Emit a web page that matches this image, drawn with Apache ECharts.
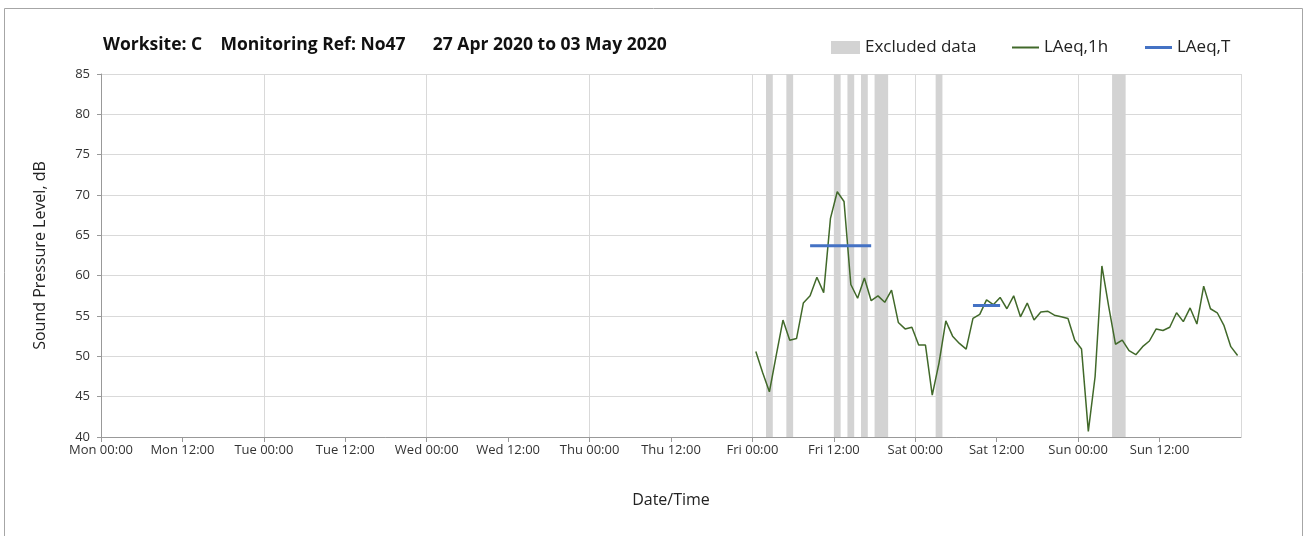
<!DOCTYPE html>
<html>
<head>
<meta charset="utf-8">
<title>Worksite C - No47</title>
<script src="https://cdn.jsdelivr.net/npm/echarts@6/dist/echarts.min.js"></script>
<style>
    html, body { margin: 0; padding: 0; background: #fff; }
    #chart { width: 1306px; height: 536px; }
</style>
</head>
<body>
<div id="chart"></div>
<script>
; (function () {

    /* ============ data (hours from Mon 00:00) ============ */

    var dayNames = ['Mon', 'Tue', 'Wed', 'Thu', 'Fri', 'Sat', 'Sun'];

    // LAeq,1h values, one per hour, first one plotted at Fri 00:30
    var firstHour = 96.5;
    var laeq1h = [
        50.6, 48.0, 45.6, 50.1, 54.5, 52.0, 52.2, 56.6, 57.5, 59.8, 57.9, 67.1,
        70.4, 69.2, 58.9, 57.2, 59.7, 56.9, 57.5, 56.7, 58.2, 54.2, 53.4, 53.6,
        51.4, 51.4, 45.2, 49.2, 54.4, 52.5, 51.6, 50.9, 54.7, 55.2, 57.0, 56.4,
        57.3, 55.9, 57.5, 54.9, 56.6, 54.5, 55.5, 55.6, 55.1, 54.9, 54.7, 52.0,
        50.9, 40.7, 47.5, 61.2, 56.2, 51.5, 52.0, 50.7, 50.2, 51.2, 51.9, 53.4,
        53.2, 53.6, 55.4, 54.3, 56.0, 54.0, 58.7, 55.9, 55.4, 53.8, 51.2, 50.1
    ];

    // LAeq,T periods
    var laeqTStart = [104.5, 128.5];
    var laeqTEnd = [113.5, 132.5];
    var laeqTValue = [63.7, 56.3];

    // excluded data bands
    var excludedStart = [98, 101, 108, 110, 112, 114, 123, 149];
    var excludedEnd = [99, 102, 109, 111, 113, 116, 124, 151];

    /* ======================================================================== */

    var myChart = echarts.init(document.getElementById('chart'));

    var font = '"Open Sans", "DejaVu Sans", sans-serif';
    var green = '#41692a';
    var blue = '#4472c4';
    var grey = '#d3d3d3';

    var lineData = laeq1h.map(function (v, i) {
        return [firstHour + i, v];
    });

    var bandData = excludedStart.map(function (s, i) {
        return [s, excludedEnd[i]];
    });

    var laeqTSeries = laeqTStart.map(function (s, i) {
        return {
            name: 'LAeq,T',
            type: 'line',
            xAxisIndex: 0,
            symbol: 'none',
            silent: true,
            z: 4,
            lineStyle: { color: blue, width: 3 },
            itemStyle: { color: blue },
            data: [[s, laeqTValue[i]], [laeqTEnd[i], laeqTValue[i]]]
        };
    });

    function hourLabel(h) {
        var d = Math.floor(h / 24);
        if (d > 6) return '';
        return dayNames[d] + (h % 24 === 0 ? ' 00:00' : ' 12:00');
    }

    var legendText = { fontFamily: font, fontSize: 17, color: '#222' };

    var option = {
        animation: false,
        title: {
            text: 'Worksite: C    Monitoring Ref: No47      27 Apr 2020 to 03 May 2020',
            left: 98,
            top: 31,
            textStyle: { fontFamily: font, fontSize: 17.5, fontWeight: 'bold', color: '#111' }
        },
        legend: [
            {
                data: [{ name: 'Excluded data', icon: 'rect' }],
                left: 826, top: 34,
                itemWidth: 29, itemHeight: 13,
                textStyle: legendText
            },
            {
                data: [{ name: 'LAeq,1h', icon: 'rect' }],
                left: 1007, top: 34,
                itemWidth: 27, itemHeight: 2,
                textStyle: legendText
            },
            {
                data: [{ name: 'LAeq,T', icon: 'rect' }],
                left: 1140, top: 34,
                itemWidth: 27, itemHeight: 3,
                textStyle: legendText
            }
        ],
        graphic: [{
            type: 'rect',
            shape: { x: 4.5, y: 8.5, width: 1298, height: 560 },
            style: { fill: 'none', stroke: '#a6a6a6', lineWidth: 1 },
            silent: true,
            z: -1
        }],
        grid: {
            left: 101,
            right: 65,
            top: 74,
            bottom: 99
        },
        xAxis: [
            {
                type: 'value',
                min: 0,
                max: 168,
                interval: 12,
                name: 'Date/Time',
                nameLocation: 'middle',
                nameGap: 55,
                nameTextStyle: { fontFamily: font, fontSize: 16, color: '#222' },
                axisLine: { lineStyle: { color: '#999', width: 1 } },
                axisTick: { length: 5, lineStyle: { color: '#999' } },
                axisLabel: {
                    margin: 7,
                    fontFamily: font,
                    fontSize: 13,
                    color: '#333',
                    showMaxLabel: false,
                    formatter: hourLabel
                },
                splitLine: { show: false }
            },
            {
                // day gridlines only
                type: 'value',
                min: 0,
                max: 168,
                interval: 24,
                position: 'bottom',
                axisLine: { show: false },
                axisTick: { show: false },
                axisLabel: { show: false },
                splitLine: { show: true, lineStyle: { color: '#d9d9d9', width: 1 } }
            }
        ],
        yAxis: {
            type: 'value',
            min: 40,
            max: 85,
            interval: 5,
            name: 'Sound Pressure Level, dB',
            nameLocation: 'middle',
            nameGap: 53,
            nameTextStyle: { fontFamily: font, fontSize: 16, color: '#222' },
            axisLine: { show: true, lineStyle: { color: '#999', width: 1 } },
            axisTick: { show: true, length: 4, lineStyle: { color: '#999' } },
            axisLabel: { margin: 11, fontFamily: font, fontSize: 13, color: '#333' },
            splitLine: { lineStyle: { color: '#d9d9d9', width: 1 } }
        },
        series: [
            {
                name: 'Excluded data',
                type: 'custom',
                xAxisIndex: 0,
                itemStyle: { color: grey },
                z: 1,
                silent: true,
                renderItem: function (params, api) {
                    var p0 = api.coord([api.value(0), 85]);
                    var p1 = api.coord([api.value(1), 40]);
                    return {
                        type: 'rect',
                        shape: { x: p0[0], y: p0[1], width: p1[0] - p0[0], height: p1[1] - p0[1] },
                        style: { fill: grey }
                    };
                },
                encode: { x: [0, 1] },
                data: bandData
            },
            {
                name: 'LAeq,1h',
                type: 'line',
                xAxisIndex: 0,
                symbol: 'none',
                z: 3,
                lineStyle: { color: green, width: 1.5 },
                itemStyle: { color: green },
                data: lineData
            }
        ].concat(laeqTSeries)
    };

    myChart.setOption(option);
}());
</script>
</body>
</html>
